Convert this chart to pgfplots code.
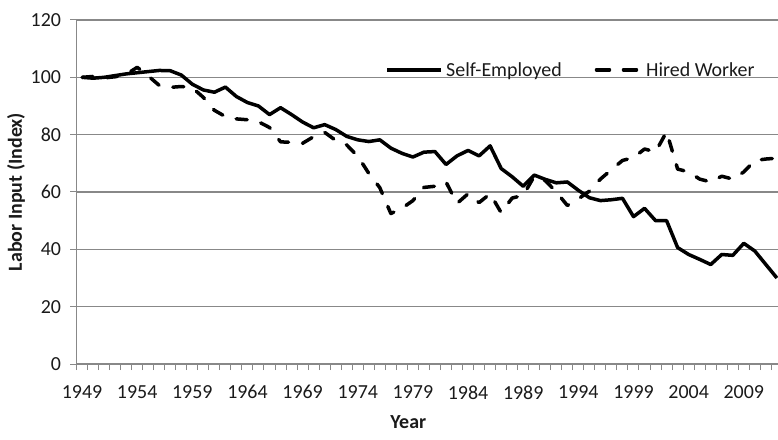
\documentclass[border=0pt]{standalone}
\usepackage{fontspec}
\setmainfont{Carlito}
\usepackage{pgfplots}
\usepackage{pgfplotstable}
\pgfplotsset{compat=1.18}
\definecolor{gridgray}{HTML}{888888}
\definecolor{txt}{HTML}{1A1A1A}
\pgfplotsset{
  solidleg/.style={legend image code/.code={\draw[##1] (0bp,0bp) -- (54bp,0bp);}},
  dashleg/.style={legend image code/.code={\draw[##1, dash pattern=on 13bp off 14bp] (2bp,0bp) -- (47bp,0bp);}},
}
\pgfplotstableread{
year self hired
1949 100.0 100.0
1950 99.7 100.3
1951 100.0 99.8
1952 100.6 100.2
1953 101.2 101.0
1954 101.6 103.5
1955 102.0 100.5
1956 102.4 97.2
1957 102.3 96.5
1958 100.8 96.8
1959 97.6 96.4
1960 95.6 93.0
1961 94.8 88.5
1962 96.6 86.3
1963 93.3 85.5
1964 91.2 85.2
1965 90.0 84.5
1966 87.0 82.5
1967 89.4 77.5
1968 87.0 77.3
1969 84.4 77.0
1970 82.4 79.3
1971 83.5 80.8
1972 81.8 78.0
1973 79.4 76.4
1974 78.2 72.5
1975 77.6 66.5
1976 78.2 61.5
1977 75.3 52.5
1978 73.5 54.3
1979 72.2 57.0
1980 73.9 61.6
1981 74.1 62.0
1982 69.6 63.5
1983 72.6 56.0
1984 74.5 59.4
1985 72.6 56.3
1986 76.1 59.4
1987 68.2 52.8
1988 65.3 57.9
1989 62.0 58.8
1990 65.9 65.5
1991 64.4 64.0
1992 63.2 60.0
1993 63.5 55.3
1994 60.6 57.6
1995 58.0 60.3
1996 57.0 64.5
1997 57.3 67.8
1998 57.8 71.0
1999 51.4 72.0
2000 54.3 75.0
2001 50.0 74.0
2002 50.0 81.0
2003 40.6 68.0
2004 38.2 67.0
2005 36.5 64.5
2006 34.7 63.5
2007 38.2 65.5
2008 37.9 64.5
2009 42.1 67.0
2010 39.4 71.0
2011 34.7 71.5
2012 30.0 71.8
}\data
\begin{document}
\begin{tikzpicture}
\begin{axis}[
  scale only axis,
  width=701.5bp, height=344bp,
  xmin=1948.5, xmax=2012.1,
  ymin=0, ymax=120,
  axis x line*=bottom, axis y line*=left,
  axis line style={draw=gridgray, line width=1.2bp},
  ytick={0,20,...,120},
  xtick={1949,1954,...,2009},
  minor xtick={1948.5,1949.5,...,2011.5},
  tick align=outside,
  major tick length=6bp, minor tick length=6bp,
  major x tick style={draw=none},
  every tick/.style={draw=gridgray, line width=1bp},
  minor x tick style={draw=gridgray, line width=1bp},
  ymajorgrids,
  grid style={draw=gridgray, line width=1.2bp},
  tick label style={font=\fontsize{20}{23}\selectfont, text=txt},
  /pgf/number format/assume math mode=true,
  /pgf/number format/1000 sep={},
  yticklabel style={xshift=-6bp},
  xticklabel style={yshift=-12bp},
  xlabel={\textbf{Year}},
  ylabel={\textbf{Labor Input (Index)}},
  label style={font=\fontsize{20}{23}\selectfont, text=txt},
  xlabel style={at={(axis description cs:0.473,-0.168)}, anchor=center},
  ylabel style={at={(axis description cs:-0.0862,0.5)}, anchor=center},
  legend columns=2,
  legend style={at={(0.4405,0.855)}, anchor=west, draw=none, fill=none,
    font=\fontsize{20}{23}\selectfont, text=txt, inner sep=0pt,
    nodes={inner sep=3bp},
    /tikz/every even column/.append style={column sep=30bp}},
]
\addplot[black, line width=3.5bp, line join=round, solidleg] table[x=year, y=self] {\data};
\addlegendentry{Self-Employed}
\addplot[black, line width=3.5bp, line join=round, line cap=round, dash pattern=on 11bp off 14bp, dashleg] table[x=year, y=hired] {\data};
\addlegendentry{Hired Worker}
\coordinate (sw) at (rel axis cs:0,0);
\coordinate (ne) at (rel axis cs:1,1);
\end{axis}
\pgfresetboundingbox
\path[use as bounding box] ([shift={(-76.5bp,-76bp)}]sw) rectangle ([shift={(0bp,20bp)}]ne);
\end{tikzpicture}
\end{document}
